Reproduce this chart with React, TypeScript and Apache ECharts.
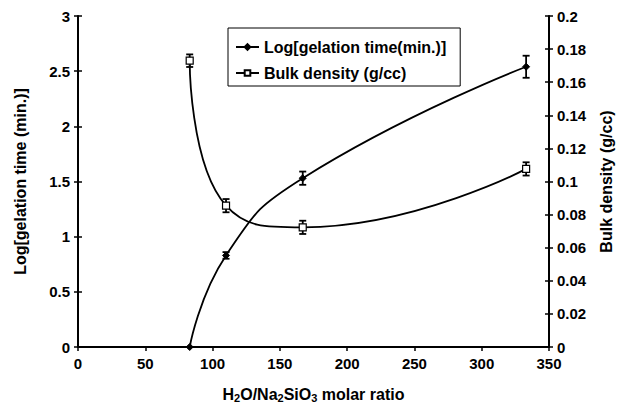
import React, { useEffect, useRef } from "react";
import * as echarts from "echarts";

const ratios = [83, 110, 167, 333];
const logGelation = [0, 0.83, 1.53, 2.54];
const logGelationErr = [0, 0.03, 0.06, 0.1];
const bulkDensity = [0.173, 0.0854, 0.0723, 0.1076];
const bulkDensityErr = [0.0038, 0.004, 0.004, 0.004];
const seriesNames = ["Log[gelation time(min.)]", "Bulk density (g/cc)"];

const FONT = "Liberation Sans, Arial, sans-serif";

function errorBarSeries(values: number[], errs: number[], yAxisIndex: number) {
  return {
    type: "custom",
    yAxisIndex,
    silent: true,
    z: 1,
    data: ratios.map((x, i) => [x, values[i] - errs[i], values[i] + errs[i]]),
    renderItem: (params: any, api: any) => {
      const x = api.value(0);
      const lo = api.coord([x, api.value(1)]);
      const hi = api.coord([x, api.value(2)]);
      const cap = 3.5;
      const style = { stroke: "#000", lineWidth: 1.8 };
      if (Math.abs(lo[1] - hi[1]) < 1) return { type: "group", children: [] };
      return {
        type: "group",
        children: [
          { type: "line", shape: { x1: lo[0], y1: lo[1], x2: hi[0], y2: hi[1] }, style },
          { type: "line", shape: { x1: lo[0] - cap, y1: lo[1], x2: lo[0] + cap, y2: lo[1] }, style },
          { type: "line", shape: { x1: hi[0] - cap, y1: hi[1], x2: hi[0] + cap, y2: hi[1] }, style },
        ],
      };
    },
  };
}

export default function App() {
  const ref = useRef<HTMLDivElement>(null);
  useEffect(() => {
    if (!ref.current) return;
    const chart = echarts.init(ref.current, undefined, { renderer: "svg" });
    const labelStyle = { color: "#000", fontWeight: 700, fontSize: 15, fontFamily: FONT };
    const axisLine = { show: true, lineStyle: { color: "#000", width: 2 } };
    const tickOut = { show: true, inside: false, length: 4, lineStyle: { color: "#000", width: 1.5 } };
    const tickIn = { show: true, inside: true, length: 4, lineStyle: { color: "#000", width: 1.5 } };
    const nameStyle = { color: "#000", fontWeight: 700, fontSize: 16, fontFamily: FONT };
    chart.setOption({
      animation: false,
      backgroundColor: "#fff",
      grid: { left: 78, right: 73, top: 16, bottom: 56, outerBoundsMode: "none", containLabel: false },
      legend: {
        orient: "vertical",
        left: 228,
        top: 28,
        data: seriesNames,
        borderColor: "#000",
        borderWidth: 1,
        padding: [11, 14, 5, 7],
        itemWidth: 23,
        itemHeight: 7,
        itemGap: 10,
        textStyle: { color: "#000", fontWeight: 700, fontSize: 16, fontFamily: FONT },
      },
      xAxis: [
        {
          type: "value",
          min: 0,
          max: 350,
          interval: 50,
          axisLine,
          axisTick: tickOut,
          splitLine: { show: false },
          axisLabel: { ...labelStyle, margin: 9 },
          name: "{n|H}{s|2}{n|O/Na}{s|2}{n|SiO}{s|3}{n| molar ratio}",
          nameLocation: "middle",
          nameGap: 38,
          nameTextStyle: {
            ...nameStyle,
            rich: {
              n: { ...nameStyle },
              s: { ...nameStyle, fontSize: 11, padding: [7, 0, 0, 0] },
            },
          },
        },
      ],
      yAxis: [
        {
          type: "value",
          position: "left",
          min: 0,
          max: 3,
          interval: 0.5,
          axisLine,
          axisTick: tickOut,
          splitLine: { show: false },
          axisLabel: { ...labelStyle, margin: 8 },
          name: "Log[gelation time (min.)]",
          nameLocation: "middle",
          nameGap: 50,
          nameRotate: 90,
          nameTextStyle: nameStyle,
        },
        {
          type: "value",
          position: "right",
          min: 0,
          max: 0.2,
          interval: 0.02,
          axisLine,
          axisTick: tickOut,
          splitLine: { show: false },
          axisLabel: { ...labelStyle, margin: 8 },
          name: "Bulk density (g/cc)",
          nameLocation: "middle",
          nameGap: 49,
          nameRotate: 90,
          nameTextStyle: nameStyle,
        },
        {
          type: "value",
          position: "left",
          min: 0,
          max: 3,
          interval: 0.5,
          axisLine: { show: false },
          axisTick: tickIn,
          axisLabel: { show: false },
          splitLine: { show: false },
        },
        {
          type: "value",
          position: "right",
          min: 0,
          max: 0.2,
          interval: 0.02,
          axisLine: { show: false },
          axisTick: tickIn,
          axisLabel: { show: false },
          splitLine: { show: false },
        },
      ],
      series: [
        {
          name: seriesNames[0],
          type: "line",
          yAxisIndex: 0,
          smooth: 0.5,
          symbol: "diamond",
          symbolSize: 7,
          z: 3,
          lineStyle: { color: "#000", width: 1.8 },
          itemStyle: { color: "#000", borderColor: "#000", borderWidth: 1 },
          data: ratios.map((x, i) => [x, logGelation[i]]),
        },
        {
          name: seriesNames[1],
          type: "line",
          yAxisIndex: 1,
          smooth: 0.5,
          symbol: "rect",
          symbolSize: 7,
          showAllSymbol: true,
          z: 3,
          lineStyle: { color: "#000", width: 1.8 },
          itemStyle: { color: "#fff", borderColor: "#000", borderWidth: 1.2 },
          data: ratios.map((x, i) => [x, bulkDensity[i]]),
        },
        errorBarSeries(logGelation, logGelationErr, 0),
        errorBarSeries(bulkDensity, bulkDensityErr, 1),
      ],
    });
    return () => chart.dispose();
  }, []);
  return (
    <div
      ref={ref}
      style={{ position: "fixed", left: 0, top: 0, width: 622, height: 403, background: "#fff" }}
    />
  );
}
